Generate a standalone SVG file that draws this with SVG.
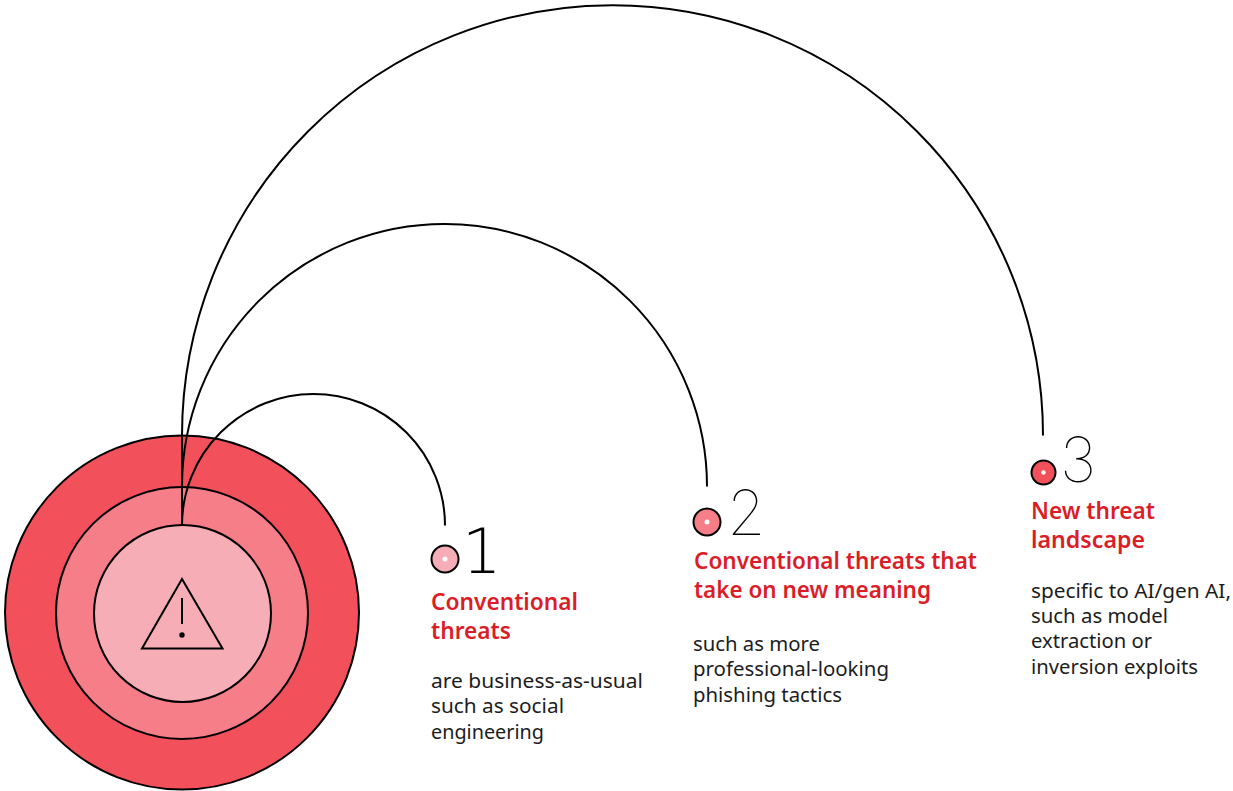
<svg xmlns="http://www.w3.org/2000/svg" width="1233" height="791" viewBox="0 0 1233 791">
<style>
.ln{fill:none;stroke:#000;stroke-width:2}
.c{stroke:#000;stroke-width:2}
.w{fill:#fff}
.t{font-family:"Noto Sans","Open Sans",sans-serif;font-size:23px;font-weight:600;fill:#da1e28}
.b{font-family:"Noto Sans","Open Sans",sans-serif;font-size:20px;fill:#1c1c1c}
.n{font-family:"Inter","Roboto",sans-serif;font-size:62px;font-weight:100;fill:#000}
.one{font-family:"DejaVu Sans",sans-serif;font-size:62px;font-weight:200;fill:#000}
</style>
<rect width="1233" height="791" fill="#fff"/>
<g id="rings">
<circle class="c" cx="182" cy="612.5" r="177" fill="#f2505b"/>
<circle class="c" cx="182" cy="613" r="126" fill="#f67e88"/>
<circle class="c" cx="182.5" cy="613.5" r="88.5" fill="#f6adb5"/>
</g>
<g id="connectors">
<path class="ln" d="M182 524V525.500A131.500 131.500 0 0 1 445 525.500"/>
<path class="ln" d="M182 524V486.500A262.500 262.500 0 0 1 707 486.500"/>
<path class="ln" d="M182 524V435.500A430.500 430.500 0 0 1 1043 435.500"/>
</g>
<g id="warning">
<path class="ln" d="M182 579L222.500 648.500H142Z" stroke-linejoin="miter"/>
<path class="ln" d="M182 598V624"/>
<circle cx="182" cy="635" r="2.700" fill="#000"/>
</g>
<g id="item1">
<circle class="c" cx="445" cy="559" r="13.500" fill="#f6adb5"/>
<circle class="w" cx="445" cy="559" r="2.500"/>
<text class="one" x="462" y="573">1</text>
<text class="t" x="431" y="610" textLength="147" lengthAdjust="spacingAndGlyphs">Conventional</text>
<text class="t" x="431" y="639" textLength="80" lengthAdjust="spacingAndGlyphs">threats</text>
<text class="b" x="431" y="688" textLength="212" lengthAdjust="spacingAndGlyphs">are business-as-usual</text>
<text class="b" x="431" y="713" textLength="133" lengthAdjust="spacingAndGlyphs">such as social</text>
<text class="b" x="431" y="739" textLength="113" lengthAdjust="spacingAndGlyphs">engineering</text>
</g>
<g id="item2">
<circle class="c" cx="707" cy="522" r="13.500" fill="#f67e88"/>
<circle class="w" cx="707" cy="522" r="2.500"/>
<text class="n" x="727" y="535">2</text>
<text class="t" x="694" y="569" textLength="283" lengthAdjust="spacingAndGlyphs">Conventional threats that</text>
<text class="t" x="694" y="598" textLength="237" lengthAdjust="spacingAndGlyphs">take on new meaning</text>
<text class="b" x="693" y="651" textLength="127" lengthAdjust="spacingAndGlyphs">such as more</text>
<text class="b" x="693" y="676" textLength="196" lengthAdjust="spacingAndGlyphs">professional-looking</text>
<text class="b" x="693" y="702" textLength="149" lengthAdjust="spacingAndGlyphs">phishing tactics</text>
</g>
<g id="item3">
<circle class="c" cx="1043.500" cy="472.500" r="12" fill="#f2505b"/>
<circle class="w" cx="1043.500" cy="472.500" r="2.200"/>
<text class="n" x="1060" y="482">3</text>
<text class="t" x="1031" y="519" textLength="124" lengthAdjust="spacingAndGlyphs">New threat</text>
<text class="t" x="1031" y="548" textLength="114" lengthAdjust="spacingAndGlyphs">landscape</text>
<text class="b" x="1031" y="598" textLength="200" lengthAdjust="spacingAndGlyphs">specific to AI/gen AI,</text>
<text class="b" x="1031" y="623" textLength="137" lengthAdjust="spacingAndGlyphs">such as model</text>
<text class="b" x="1031" y="648" textLength="121" lengthAdjust="spacingAndGlyphs">extraction or</text>
<text class="b" x="1031" y="674" textLength="167" lengthAdjust="spacingAndGlyphs">inversion exploits</text>
</g>
</svg>
